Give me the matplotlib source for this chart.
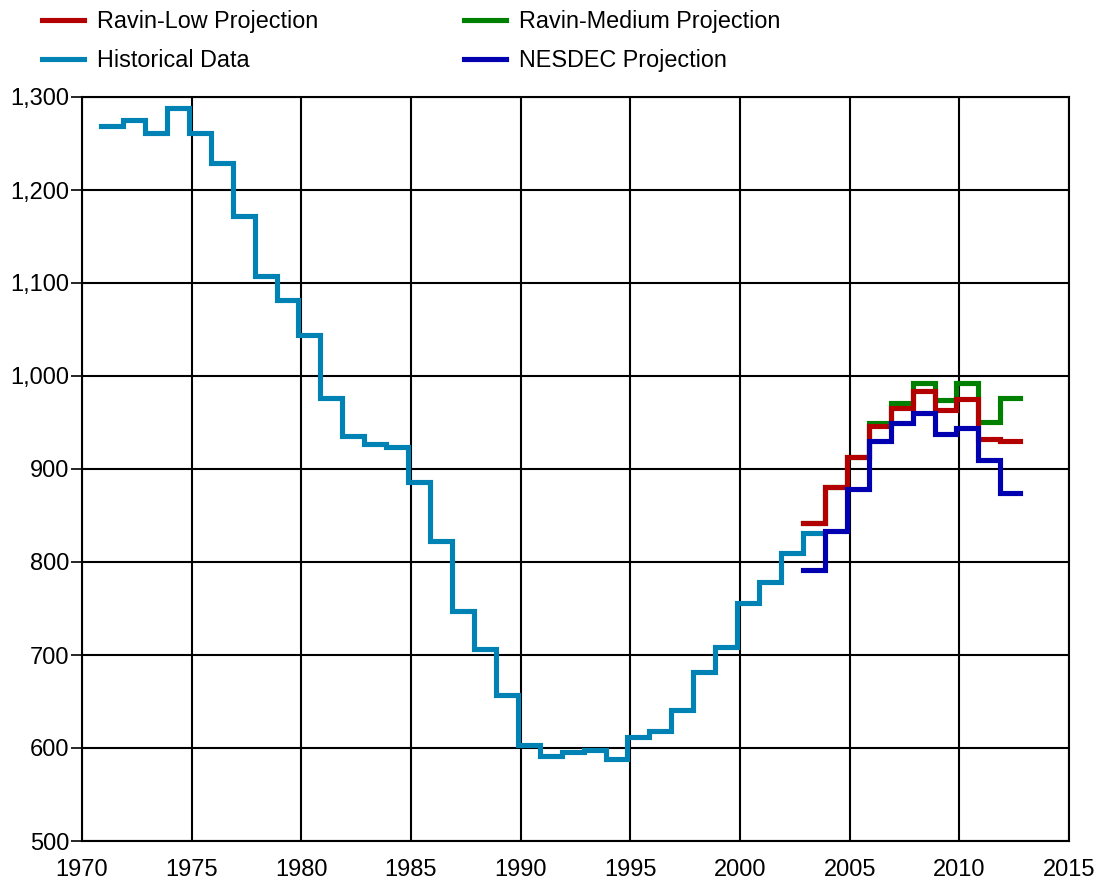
import numpy as np
import matplotlib
matplotlib.use("Agg")
import matplotlib.pyplot as plt
from matplotlib.ticker import FuncFormatter, MultipleLocator

plt.rcParams["font.family"] = ["Liberation Sans", "DejaVu Sans"]

# historical enrollment, one value per year
hist_years = list(range(1971, 2004))
hist_vals = [1269, 1275, 1261, 1288, 1261, 1229, 1172, 1108, 1082, 1044,
             976, 935, 927, 924, 886, 823, 747, 706, 657, 603,
             591, 596, 598, 588, 612, 618, 641, 682, 709, 756,
             778, 810, 831]

proj_years = list(range(2003, 2013))
ravin_low = [842, 881, 913, 946, 966, 984, 963, 975, 932, 930]
ravin_med = [842, 881, 913, 950, 971, 993, 974, 992, 951, 976]
nesdec = [791, 833, 879, 930, 950, 960, 938, 944, 910, 874]

C_LOW = "#b30000"
C_MED = "#008000"
C_HIST = "#0083b4"
C_NES = "#0000b0"

SHIFT = 0.13  # each year's step starts slightly before the year mark


def step(ax, years, vals, color, label, z):
    xs = np.array(years, dtype=float) - SHIFT
    xs = np.append(xs, xs[-1] + 0.9)
    ys = np.append(vals, vals[-1])
    ax.step(xs, ys, where="post", color=color, lw=3.7, label=label, zorder=z,
            solid_joinstyle="miter")


fig = plt.figure(figsize=(10.99, 8.84), dpi=100)
ax = fig.add_axes([82 / 1099, 1 - 841 / 884, (1069 - 82) / 1099, (841 - 97) / 884])

step(ax, proj_years, ravin_med, C_MED, "Ravin-Medium Projection", 3)
step(ax, proj_years, ravin_low, C_LOW, "Ravin-Low Projection", 4)
step(ax, hist_years, hist_vals, C_HIST, "Historical Data", 5)
step(ax, proj_years, nesdec, C_NES, "NESDEC Projection", 6)

ax.set_xlim(1970, 2015)
ax.set_ylim(500, 1300)
ax.xaxis.set_major_locator(MultipleLocator(5))
ax.yaxis.set_major_locator(MultipleLocator(100))
ax.yaxis.set_major_formatter(FuncFormatter(lambda v, _: f"{v:,.0f}"))
ax.grid(True, color="black", lw=1.5, zorder=1)
for s in ax.spines.values():
    s.set_linewidth(1.5)
ax.tick_params(axis="y", length=8, width=1.2, pad=1, labelsize=17)
ax.tick_params(axis="x", length=0, pad=13, labelsize=17)
for t in ax.get_yticklabels():
    t.set_va("center_baseline")

h, l = ax.get_legend_handles_labels()
order = ["Ravin-Low Projection", "Historical Data", "Ravin-Medium Projection", "NESDEC Projection"]
hd = dict(zip(l, h))
fig.legend([hd[k] for k in order], order, ncol=2, loc="upper left",
           bbox_to_anchor=(42 / 1099, 1 - 10 / 884), frameon=False, fontsize=16.8,
           handlelength=1.8, handletextpad=0.55, columnspacing=6.25, labelspacing=0.7,
           borderpad=0, borderaxespad=0)

fig.savefig("out.png", dpi=100)
